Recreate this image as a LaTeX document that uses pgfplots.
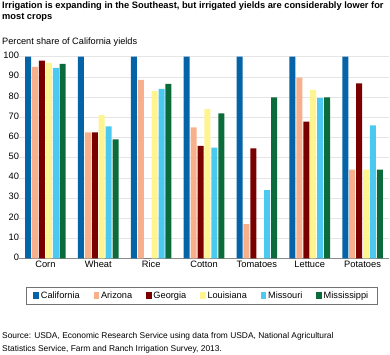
\documentclass[border=0pt]{standalone}
\usepackage{pgfplots}
\pgfplotsset{compat=1.18}
\usepackage{fontspec}
\setmainfont{Liberation Sans}
\definecolor{cCA}{HTML}{0564A8}
\definecolor{cAZ}{HTML}{F8B08C}
\definecolor{cGA}{HTML}{7A0000}
\definecolor{cLA}{HTML}{FEF590}
\definecolor{cMO}{HTML}{4CC9F0}
\definecolor{cMS}{HTML}{0B6B3B}
\begin{document}
\begin{tikzpicture}[x=1bp,y=1bp]
\path[use as bounding box] (0,0) rectangle (390,355);
\node[anchor=north west, align=left, inner sep=0pt, font=\fontsize{9.3bp}{11bp}\selectfont\bfseries] at (2,353.5)
  {Irrigation is expanding in the Southeast, but irrigated yields are considerably lower for\\most crops};
\node[anchor=west, inner sep=0pt, font=\fontsize{9.2bp}{10bp}\selectfont] at (2,312.7) {Percent share of California yields};
\node[anchor=north west, align=left, inner sep=0pt, font=\fontsize{8.4bp}{12.5bp}\selectfont] at (2,22.5)
  {Source: USDA, Economic Research Service using data from USDA, National Agricultural\\Statistics Service, Farm and Ranch Irrigation Survey, 2013.};
\begin{axis}[
  at={(19bp,96.5bp)}, anchor=south west,
  scale only axis, width=370bp, height=201.8bp,
  xmin=-0.5, xmax=6.5, ymin=0, ymax=100,
  ybar=0.92bp, bar width=6bp,
  xtick={0,...,6},
  xticklabels={Corn,Wheat,Rice,Cotton,Tomatoes,Lettuce,Potatoes},
  ytick={0,10,...,100},
  ymajorgrids, grid style={draw=black!10, line width=0.5pt},
  axis x line*=bottom, axis y line*=left,
  x axis line style={draw=black!45, line width=0.6pt, -},
  y axis line style={draw=none},
  major tick length=0pt,
  clip=false,
  /pgf/number format/assume math mode=true,
  tick label style={font=\fontsize{9.3bp}{10bp}\selectfont},
  typeset ticklabels with strut,
  yticklabel shift={-3.5bp},
  xticklabel shift={-1.5bp},
  legend columns=6,
  legend style={at={(0.494,-0.183)}, anchor=center, draw=black!55, line width=0.5pt,
    font=\fontsize{9.2bp}{10bp}\selectfont, inner xsep=7bp, inner ysep=2.5bp,
    /tikz/every even column/.append style={column sep=11.8bp}},
  legend image code/.code={\fill[#1] (0bp,-3.5bp) rectangle (5.5bp,3.5bp);},
]
\addplot[fill=cCA, draw=none] coordinates {(0,100) (1,100) (2,100) (3,100) (4,100) (5,100) (6,100)};
\addplot[fill=cAZ, draw=none] coordinates {(0,95) (1,62.5) (2,88.5) (3,65) (4,17) (5,89.6) (6,44.1)};
\addplot[fill=cGA, draw=none] coordinates {(0,98) (1,62.5) (2,0) (3,55.8) (4,54.6) (5,67.8) (6,86.8)};
\addplot[fill=cLA, draw=none] coordinates {(0,97) (1,71) (2,83) (3,74) (4,0) (5,83.6) (6,44.1)};
\addplot[fill=cMO, draw=none] coordinates {(0,94.5) (1,65.5) (2,84) (3,54.9) (4,33.9) (5,79.5) (6,66)};
\addplot[fill=cMS, draw=none] coordinates {(0,96.5) (1,59) (2,86.5) (3,71.9) (4,79.9) (5,79.9) (6,44.1)};
\legend{California,Arizona,Georgia,Louisiana,Missouri,Mississippi}
\end{axis}
\end{tikzpicture}
\end{document}
